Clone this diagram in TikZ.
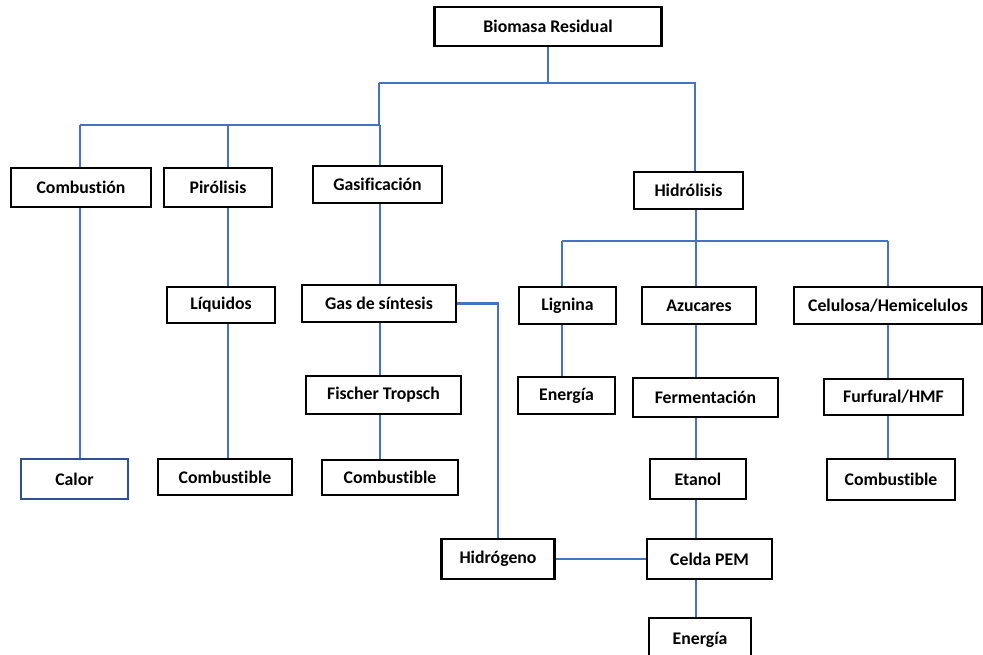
\documentclass[tikz,border=0pt]{standalone}
\usepackage{fontspec}
\setmainfont{Carlito}[Ligatures=NoCommon]
\usetikzlibrary{calc}
\definecolor{linea}{HTML}{4472C4}
\definecolor{bordeazul}{HTML}{2F528F}
\tikzstyle{caja} = [draw=black, shape=rectangle, line width=1.3pt, inner sep=0pt, font=\fontsize{10.1}{12}\selectfont\bfseries]
\tikzstyle{sz} = [minimum width=#1*0.02cm]
\tikzstyle{conexion} = [draw=linea, line width=1.2pt]

\begin{document}
\begin{tikzpicture}[x=0.02cm, y=-0.02cm, minimum height=0.76cm]
    \useasboundingbox (0,0) rectangle (983,655);
    \draw (548,26.5) node[caja, sz=227, minimum height=0.78cm] (bio) {Biomasa Residual};
    \draw (81,187.5) node[caja, sz=140, minimum height=0.78cm] (comb) {Combustión};
    \draw (218,187.5) node[caja, sz=108, minimum height=0.78cm] (pir) {Pirólisis};
    \draw (377.5,184.5) node[caja, sz=129, minimum height=0.74cm] (gas) {Gasificación};
    \draw (688.5,190.5) node[caja, sz=109, minimum height=0.74cm] (hid) {Hidrólisis};
    \draw (221,305) node[caja, sz=108, minimum height=0.72cm] (liq) {Líquidos};
    \draw (379,303.5) node[caja, sz=154, minimum height=0.74cm] (sin) {Gas de síntesis};
    \draw (383.5,395) node[caja, sz=155] (fis) {Fischer Tropsch};
    \draw (74.5,479) node[caja, draw=bordeazul, sz=107, minimum height=0.8cm] (cal) {Calor};
    \draw (225,477) node[caja, sz=134, minimum height=0.72cm] (cb1) {Combustible};
    \draw (390,477.5) node[caja, sz=136, minimum height=0.7cm] (cb2) {Combustible};
    \draw (567.5,305.5) node[caja, sz=97, minimum height=0.74cm] (lig) {Lignina};
    \draw (699,305.5) node[caja, sz=114, minimum height=0.74cm] (azu) {Azucares};
    \draw (888,305.5) node[caja, sz=188, minimum height=0.74cm] (cel) {Celulosa/Hemicelulos};
    \draw (566.5,395.5) node[caja, sz=97, minimum height=0.74cm] (en1) {Energía};
    \draw (705.5,397.5) node[caja, sz=145, minimum height=0.78cm] (fer) {Fermentación};
    \draw (893.5,397) node[caja, sz=139, minimum height=0.72cm] (fur) {Furfural/HMF};
    \draw (891,479.5) node[caja, sz=128, minimum height=0.82cm] (cb3) {Combustible};
    \draw (698,479) node[caja, sz=96, minimum height=0.8cm] (eta) {Etanol};
    \draw (498,559) node[caja, sz=113, minimum height=0.8cm] (h2) {Hidrógeno};
    \draw (709.5,559) node[caja, sz=125, minimum height=0.8cm] (pem) {Celda PEM};
    \draw (700,640) node[caja, sz=102, minimum height=0.88cm] (en2) {Energía};

    \coordinate (j1) at (379,83);
    \coordinate (j2) at (695,83);
    \coordinate (j3) at (80,125);
    \coordinate (j4) at (380,125);
    \coordinate (j5) at (228,125);
    \coordinate (j6) at (696,241);
    \coordinate (j7) at (562,241);
    \coordinate (j8) at (888,241);

    \begin{scope}[conexion]
    \draw (bio.south) -- (bio.south |- j1);
    \draw (j1) -- (j2) -- (j2 |- hid.north);
    \draw (j1) -- (j1 |- j4);
    \draw (j3) -- (j4);
    \draw (j3) -- (j3 |- comb.north);
    \draw (j5) -- (j5 |- pir.north);
    \draw (j4) -- (j4 |- gas.north);
    \draw (j3 |- comb.south) -- (j3 |- cal.north);
    \draw (j5 |- pir.south) -- (j5 |- liq.north);
    \draw (j5 |- liq.south) -- (j5 |- cb1.north);
    \draw (j4 |- gas.south) -- (j4 |- sin.north);
    \draw (j4 |- sin.south) -- (j4 |- fis.north);
    \draw (j4 |- fis.south) -- (j4 |- cb2.north);
    \draw (sin.east) -- (sin.east -| h2.north) -- (h2.north);
    \draw (j6 |- hid.south) -- (j6);
    \draw (j7) -- (j8);
    \draw (j7) -- (j7 |- lig.north);
    \draw (j6) -- (j6 |- azu.north);
    \draw (j8) -- (j8 |- cel.north);
    \draw (j7 |- lig.south) -- (j7 |- en1.north);
    \draw (j6 |- azu.south) -- (j6 |- fer.north);
    \draw (j6 |- fer.south) -- (j6 |- eta.north);
    \draw (j6 |- eta.south) -- (j6 |- pem.north);
    \draw (j8 |- cel.south) -- (j8 |- fur.north);
    \draw (j8 |- fur.south) -- (j8 |- cb3.north);
    \draw (h2.east) -- (pem.west);
    \draw (j6 |- pem.south) -- (j6 |- en2.north);
    \end{scope}
\end{tikzpicture}
\end{document}
